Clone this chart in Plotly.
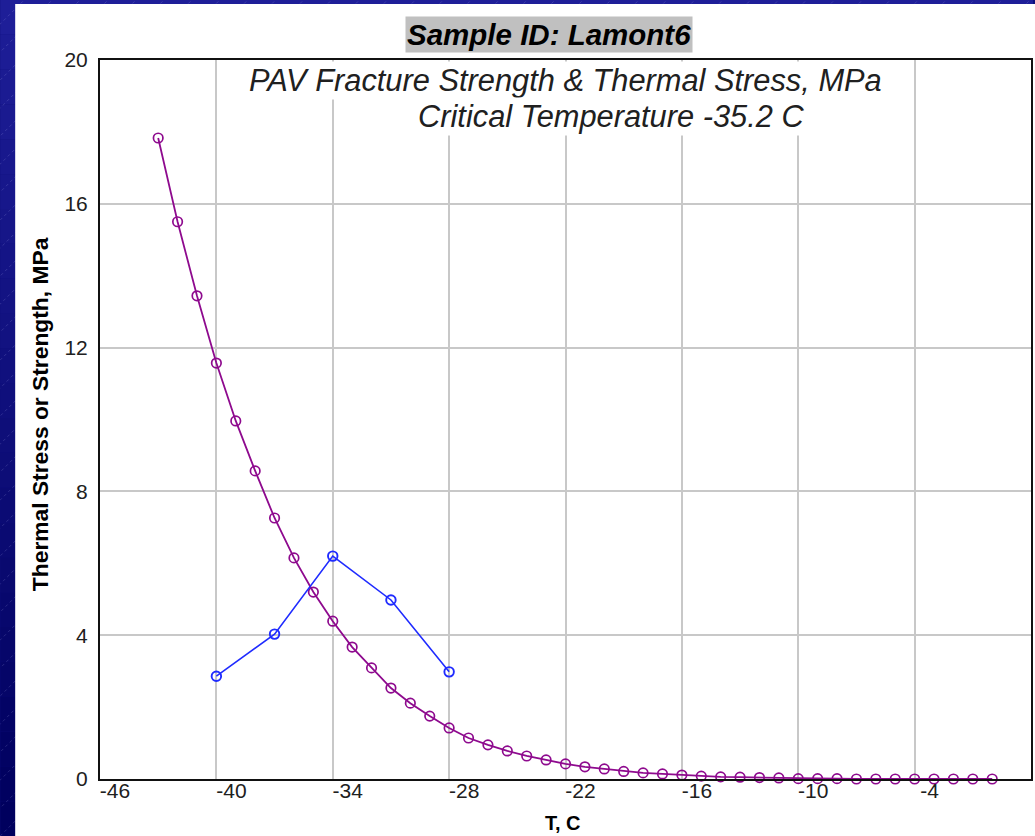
import plotly.graph_objects as go

# ---- data ----
temp_stress = [-43, -42, -41, -40, -39, -38, -37, -36, -35, -34, -33, -32, -31, -30,
               -29, -28, -27, -26, -25, -24, -23, -22, -21, -20, -19, -18, -17, -16,
               -15, -14, -13, -12, -11, -10, -9, -8, -7, -6, -5, -4, -3, -2, -1, 0]
thermal_stress = [17.83, 15.5, 13.44, 11.57, 9.96, 8.57, 7.26, 6.15, 5.2, 4.39, 3.67, 3.09,
                  2.53, 2.11, 1.75, 1.42, 1.14, 0.95, 0.78, 0.64, 0.53, 0.42, 0.34, 0.28,
                  0.21, 0.17, 0.14, 0.11, 0.08, 0.06, 0.05, 0.04, 0.03, 0.01, 0.01, 0.01,
                  0.0, 0.0, 0.0, 0.0, 0.0, 0.0, 0.0, 0.0]
temp_strength = [-40, -37, -34, -31, -28]
fracture_strength = [2.86, 4.03, 6.2, 4.98, 2.98]

x_ticks = [-46, -40, -34, -28, -22, -16, -10, -4]
y_ticks = [0, 4, 8, 12, 16, 20]

title_text = "Sample ID: Lamont6"
line1_text = "PAV Fracture Strength & Thermal Stress, MPa"
line2_text = "Critical Temperature -35.2 C"
x_title = "T, C"
y_title = "Thermal Stress or Strength, MPa"

# ---- layout geometry (pixels) ----
W, H = 1035, 836
L, R, T, B = 100, 1033, 60, 779
PW, PH = R - L, B - T


def px(x):
    return (x - L) / PW


def py(y):
    return (B - y) / PH


PURPLE = "#8e0a8e"
BLUE = "#1f2bff"

fig = go.Figure()
fig.add_trace(go.Scatter(
    x=temp_stress, y=thermal_stress, mode="lines+markers",
    line=dict(color=PURPLE, width=1.8),
    marker=dict(symbol="circle-open", size=9.5, color=PURPLE, line=dict(width=1.7)),
    cliponaxis=False, showlegend=False))
fig.add_trace(go.Scatter(
    x=temp_strength, y=fracture_strength, mode="lines+markers",
    line=dict(color=BLUE, width=1.6),
    marker=dict(symbol="circle-open", size=9.5, color=BLUE, line=dict(width=1.9)),
    cliponaxis=False, showlegend=False))

shapes = []
# background gradient bands (left strip + top strip)
nb = 24
for i in range(nb):
    t = i / (nb - 1)
    r = int(0x1e + (0x00 - 0x1e) * t)
    g = int(0x1e + (0x00 - 0x1e) * t)
    b = int(0x98 + (0x5e - 0x98) * t)
    col = f"rgb({r},{g},{b})"
    y0 = H * i / nb
    y1 = H * (i + 1) / nb
    shapes.append(dict(type="rect", xref="paper", yref="paper",
                       x0=px(0), x1=px(W), y0=py(y1), y1=py(y0),
                       line=dict(width=0), fillcolor=col, layer="below"))
# faint diagonal stripes
for k in range(-60, 80):
    x0 = k * 28
    shapes.append(dict(type="line", xref="paper", yref="paper",
                       x0=px(x0), y0=py(H), x1=px(x0 + H), y1=py(0),
                       line=dict(color="rgba(200,200,255,0.18)", width=1, dash="dot"),
                       layer="below"))
# white chart panel
shapes.append(dict(type="rect", xref="paper", yref="paper",
                   x0=px(15), x1=px(W + 5), y0=py(H + 5), y1=py(4),
                   line=dict(width=0), fillcolor="white", layer="below"))

annotations = [
    dict(text="<b><i>" + title_text + "</i></b>", xref="paper", yref="paper",
         x=px(550), y=py(34), xanchor="center", yanchor="middle", showarrow=False,
         font=dict(family="Liberation Sans, Arial", size=29.5, color="#000000"),
         bgcolor="#c0c0c0", borderpad=1),
    dict(text="<i>" + line1_text + "</i>", xref="paper", yref="paper",
         x=px(567), y=py(80), xanchor="center", yanchor="middle", showarrow=False,
         font=dict(family="Liberation Sans, Arial", size=30.8, color="#202020"),
         bgcolor="white", borderpad=1),
    dict(text="<i>" + line2_text + "</i>", xref="paper", yref="paper",
         x=px(612), y=py(116), xanchor="center", yanchor="middle", showarrow=False,
         font=dict(family="Liberation Sans, Arial", size=30.8, color="#202020"),
         bgcolor="white", borderpad=1),
    dict(text="<b>" + x_title + "</b>", xref="paper", yref="paper",
         x=px(564), y=py(823), xanchor="center", yanchor="middle", showarrow=False,
         font=dict(family="Liberation Sans, Arial", size=20, color="#000000")),
    dict(text="<b>" + y_title + "</b>", xref="paper", yref="paper",
         x=px(40), y=py(414), xanchor="center", yanchor="middle", showarrow=False,
         textangle=-90,
         font=dict(family="Liberation Sans, Arial", size=22.8, color="#000000")),
]

fig.update_layout(
    width=W, height=H,
    margin=dict(l=L, r=W - R, t=T, b=H - B, pad=0),
    paper_bgcolor="#0e0e7c", plot_bgcolor="white",
    shapes=shapes, annotations=annotations,
    font=dict(family="Liberation Sans, Arial", color="#202020"),
)
fig.update_xaxes(range=[-46, 2], tickmode="array", tickvals=x_ticks,
                 ticktext=[str(v) for v in x_ticks],
                 showgrid=True, gridcolor="#c8c8c8", gridwidth=2,
                 showline=True, linecolor="#111111", linewidth=2, mirror=True,
                 ticks="", ticklabelshift=15, ticklabelstandoff=-8,
                 tickfont=dict(size=21, color="#202020"), zeroline=False)
fig.update_yaxes(range=[0, 20], tickmode="array", tickvals=y_ticks,
                 showgrid=True, gridcolor="#c8c8c8", gridwidth=2,
                 showline=True, linecolor="#111111", linewidth=2, mirror=True,
                 ticks="", ticklabelstandoff=6,
                 tickfont=dict(size=21, color="#202020"), zeroline=False)

fig.write_html(
    "out.html",
    config={"displayModeBar": False},
    post_script="document.body.style.margin='0';"
                "document.body.style.background='#1e1e96';",
)
